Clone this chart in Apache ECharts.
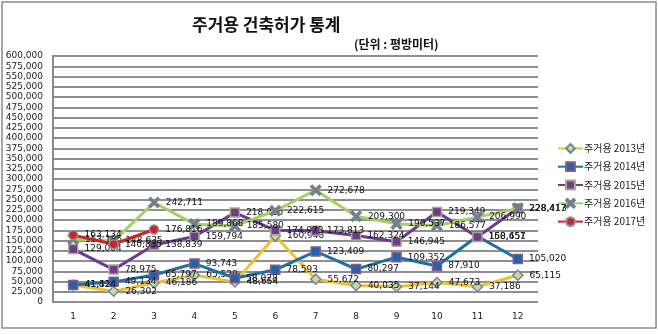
<!DOCTYPE html>
<html><head><meta charset="utf-8">
<script src="https://cdn.jsdelivr.net/npm/echarts@6/dist/echarts.min.js"></script>
<style>html,body{margin:0;padding:0;background:#fff}#c{width:658px;height:334px}</style>
</head><body><div id="c"></div>
<script>
const categories = ['1','2','3','4','5','6','7','8','9','10','11','12'];
const seriesNames = ['주거용 2013년','주거용 2014년','주거용 2015년','주거용 2016년','주거용 2017년'];
const y2013 = [41323, 26302, 46186, 65528, 48654, 160948, 55672, 40035, 37144, 47673, 37186, 65115];
const y2014 = [41424, 49134, 65797, 93743, 58028, 78593, 123409, 80297, 109352, 87910, 160457, 105020];
const y2015 = [129004, 78975, 138839, 159794, 218036, 174973, 173813, 162324, 146945, 219349, 158651, 228417];
const y2016 = [153185, 148635, 242711, 189868, 185580, 222615, 272678, 209300, 190537, 186577, 206990, 228413];
const y2017 = [163134, 140835, 176816];
const titleText = '주거용 건축허가 통계';
const unitText = '(단위 : 평방미터)';

const fmt = v => String(v).replace(/\B(?=(\d{3})+(?!\d))/g, ',');
const X = 'path://M0,1.5L1.5,0L5,3.5L8.5,0L10,1.5L6.5,5L10,8.5L8.5,10L5,6.5L1.5,10L0,8.5L3.5,5Z';
const styles = [
  {line:'#EFC032', sym:'diamond', fill:'#D9D38E', border:'#5E8DA3', size:10},
  {line:'#1E6FA6', sym:'rect', fill:'#2262AE', border:'#8C5C7C', size:9},
  {line:'#6D3A94', sym:'rect', fill:'#6D3A94', border:'#A9A982', size:9},
  {line:'#A2D264', sym:X, fill:'#71808E', border:'#71808E', size:10},
  {line:'#CC2323', sym:'circle', fill:'#CC2323', border:'#8A92AA', size:9}
];
const datas = [y2013, y2014, y2015, y2016, y2017];
const chart = echarts.init(document.getElementById('c'));
chart.setOption({
  animation: false,
  title: [
    {text: titleText, left: 187, top: 11, textStyle:{fontFamily:'Noto Sans CJK KR', fontWeight:'bold', fontSize:17, color:'#111'}},
    {text: unitText, left: 349, top: 33, textStyle:{fontFamily:'Noto Sans CJK KR', fontWeight:'bold', fontSize:12, color:'#111'}}
  ],
  graphic: [{type:'rect', shape:{x:2, y:2, width:654, height:326}, style:{fill:'none', stroke:'#8a8a8a', lineWidth:1.5}, silent:true}],
  grid: {left:53, right:120, top:56, bottom:32},
  legend: {
    orient:'vertical', left:552, top:138, itemGap:7.5, itemWidth:25, itemHeight:11,
    data: seriesNames,
    textStyle:{fontFamily:'Noto Sans CJK KR', fontSize:10, color:'#222', padding:[0,0,0,-4]}
  },
  xAxis: {
    type:'category', data: categories, boundaryGap:true,
    axisLine:{show:false}, axisTick:{show:false},
    axisLabel:{fontFamily:'DejaVu Sans', fontSize:9, color:'#222', margin:10}
  },
  yAxis: {
    type:'value', min:0, max:600000, interval:25000,
    axisLine:{show:true, lineStyle:{color:'#8a8a8a', width:2}},
    axisTick:{show:false},
    axisLabel:{fontFamily:'DejaVu Sans', fontSize:9, color:'#222', margin:10, formatter: v => fmt(v)},
    splitLine:{lineStyle:{color:'#8f8f8f', width:2}}
  },
  series: datas.map((d, i) => ({
    name: seriesNames[i], type:'line', data: d,
    symbol: styles[i].sym, symbolSize: styles[i].size, showAllSymbol:true,
    lineStyle:{color: styles[i].line, width:3},
    itemStyle:{color: styles[i].fill, borderColor: styles[i].border, borderWidth:1.5},
    label:{show:true, position:'right', distance:6, fontFamily:'DejaVu Sans', fontSize:9, color:'#111', formatter: p => fmt(p.value)},
    z: 2 + i
  }))
});
</script></body></html>
